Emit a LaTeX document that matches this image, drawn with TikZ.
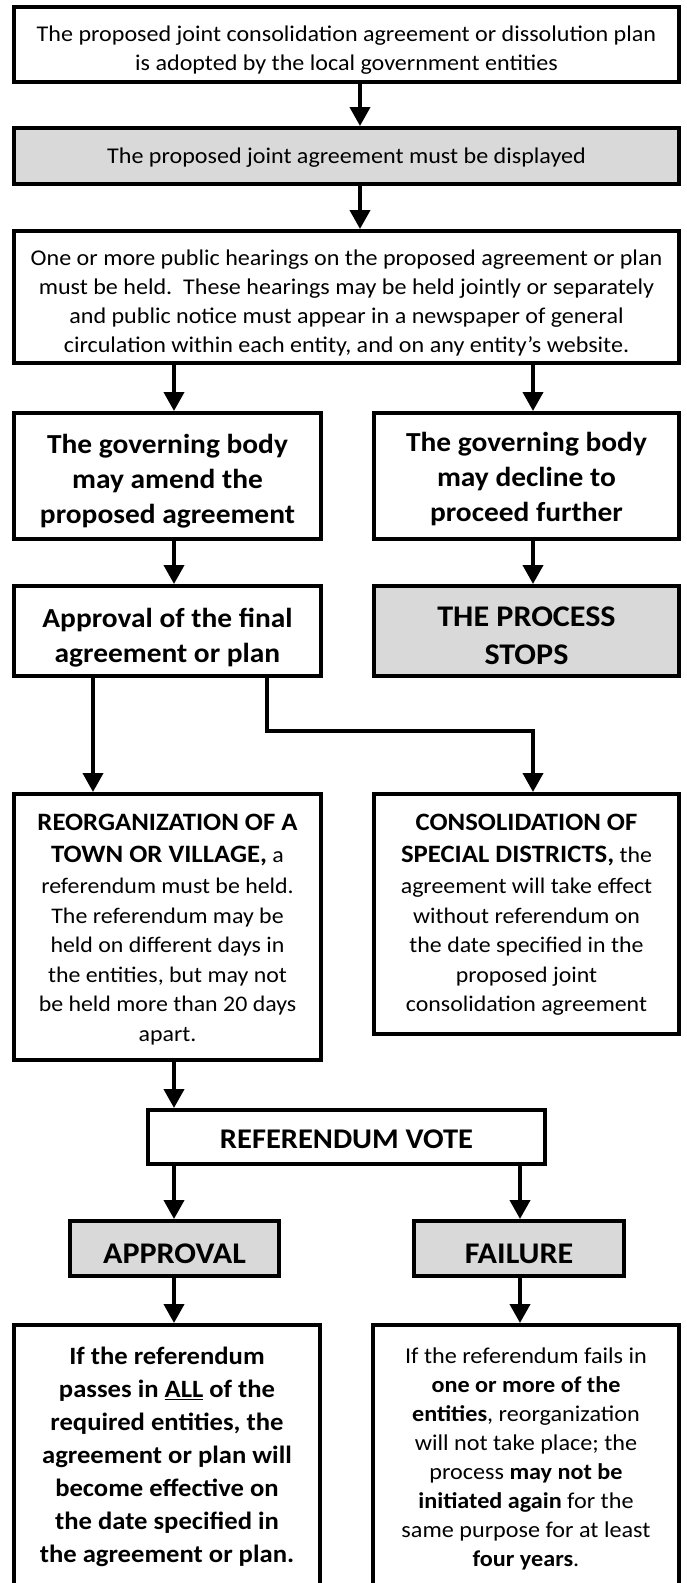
\documentclass[tikz,border=0pt]{standalone}
\usepackage{fontspec}
\setmainfont{Carlito}[FakeStretch=1.07]
\usetikzlibrary{arrows.meta}
\definecolor{boxgray}{HTML}{D9D9D9}
\newcommand{\capsb}[1]{{\fontsize{25}{29.5}\selectfont\bfseries #1}}
\tikzset{
  box/.style={draw=black, line width=4pt, fill=white, rectangle, inner sep=0pt},
  graybox/.style={box, fill=boxgray},
  txt/.style={align=center, inner sep=0pt, font=\fontsize{22.5}{28.8}\selectfont},
  midtxt/.style={align=center, inner sep=0pt, font=\fontsize{22.3}{29.5}\selectfont},
  head/.style={align=center, inner sep=0pt, font=\fontsize{27.5}{35}\selectfont\bfseries},
  bighead/.style={align=center, inner sep=0pt, font=\fontsize{30}{38}\selectfont\bfseries},
  passtxt/.style={align=center, inner sep=0pt, font=\fontsize{24.9}{33}\selectfont\bfseries},
  failtxt/.style={align=center, inner sep=0pt, font=\fontsize{22.6}{29}\selectfont},
  arr/.style={line width=4pt, -{Triangle[length=19pt,width=20pt]}},
}
\begin{document}
\begin{tikzpicture}[x=1pt,y=-1pt]
\useasboundingbox (0,0) rectangle (686,1583);
\clip (0,0) rectangle (686,1583);
% boxes
\node[box, minimum width=665pt, minimum height=75pt] (b1) at (346.5,44.5) {};
\node[graybox, minimum width=665pt, minimum height=56pt] (b2) at (346.5,156) {};
\node[box, minimum width=665pt, minimum height=132pt] (b3) at (346.5,297) {};
\node[box, minimum width=307pt, minimum height=126pt] (amend) at (167.5,476) {};
\node[box, minimum width=305pt, minimum height=126pt] (decline) at (526.5,476) {};
\node[box, minimum width=307pt, minimum height=90pt] (approve) at (167.5,631) {};
\node[graybox, minimum width=305pt, minimum height=90pt] (stops) at (526.5,631) {};
\node[box, minimum width=307pt, minimum height=266pt] (reorg) at (167.5,927) {};
\node[box, minimum width=305pt, minimum height=240pt] (consol) at (526.5,914) {};
\node[box, minimum width=397pt, minimum height=54pt] (vote) at (346.5,1137) {};
\node[graybox, minimum width=209pt, minimum height=55pt] (approval) at (174.5,1248.5) {};
\node[graybox, minimum width=210pt, minimum height=55pt] (failure) at (519,1248.5) {};
\node[box, minimum width=306pt, minimum height=295pt] (pass) at (167,1472.5) {};
\node[box, minimum width=306pt, minimum height=295pt] (fail) at (526,1472.5) {};
% texts
\node[txt] (t1) at (346.5,50) {The proposed joint consolidation agreement or dissolution plan\\is adopted by the local government entities};
\node[txt] (t2) at (346.5,157.5) {The proposed joint agreement must be displayed};
\node[txt] (t3) at (346.5,303) {One or more public hearings on the proposed agreement or plan\\must be held.\ \ These hearings may be held jointly or separately\\and public notice must appear in a newspaper of general\\circulation within each entity, and on any entity’s website.};
\node[head] (tamend) at (167.5,481) {The governing body\\may amend the\\proposed agreement};
\node[head] (tdecline) at (526.5,479) {The governing body\\may decline to\\proceed further};
\node[head] (tapprove) at (167.5,637.5) {Approval of the final\\agreement or plan};
\node[bighead] (tstops) at (526.5,636) {THE PROCESS\\STOPS};
\node[midtxt] (treorg) at (167.5,929.5) {\capsb{REORGANIZATION OF A}\\[2pt]\capsb{TOWN OR VILLAGE,} a\\[2pt]referendum must be held.\\The referendum may be\\held on different days in\\the entities, but may not\\be held more than 20 days\\apart.};
\node[midtxt] (tconsol) at (526.5,915) {\capsb{CONSOLIDATION OF}\\[2pt]\capsb{SPECIAL DISTRICTS,} the\\[2pt]agreement will take effect\\without referendum on\\the date specified in the\\proposed joint\\consolidation agreement};
\node[head] (tvote) at (346.5,1139) {\fontsize{28.5}{35}\selectfont REFERENDUM VOTE};
\node[bighead] (tapproval) at (174.5,1254) {APPROVAL};
\node[bighead] (tfailure) at (519,1254) {FAILURE};
\node[passtxt] (tpass) at (167,1457) {If the referendum\\passes in \underline{ALL} of the\\required entities, the\\agreement or plan will\\become effective on\\the date specified in\\the agreement or plan.};
\node[failtxt] (tfail) at (526,1458.5) {If the referendum fails in\\\textbf{one or more of the}\\\textbf{entities}, reorganization\\will not take place; the\\process \textbf{may not be}\\\textbf{initiated again} for the\\same purpose for at least\\\textbf{four years}.};
% connector x positions
\coordinate (xA) at (360,0);
\coordinate (xL) at (174,0);
\coordinate (xR) at (533,0);
\coordinate (xF) at (93,0);
\coordinate (xE) at (267,0);
\coordinate (yM) at (0,731);
\coordinate (xV) at (520,0);
% connectors
\draw[arr] (b1.south -| xA) -- (b2.north -| xA);
\draw[arr] (b2.south -| xA) -- (b3.north -| xA);
\draw[arr] (b3.south -| xL) -- (amend.north -| xL);
\draw[arr] (b3.south -| xR) -- (decline.north -| xR);
\draw[arr] (amend.south -| xL) -- (approve.north -| xL);
\draw[arr] (decline.south -| xR) -- (stops.north -| xR);
\draw[arr] (approve.south -| xF) -- (reorg.north -| xF);
\draw[arr] (approve.south -| xE) |- (yM -| xR) -- (consol.north -| xR);
\draw[arr] (reorg.south -| xL) -- (vote.north -| xL);
\draw[arr] (vote.south -| xL) -- (approval.north -| xL);
\draw[arr] (vote.south -| xV) -- (failure.north -| xV);
\draw[arr] (approval.south -| xL) -- (pass.north -| xL);
\draw[arr] (failure.south -| xV) -- (fail.north -| xV);
\end{tikzpicture}
\end{document}
